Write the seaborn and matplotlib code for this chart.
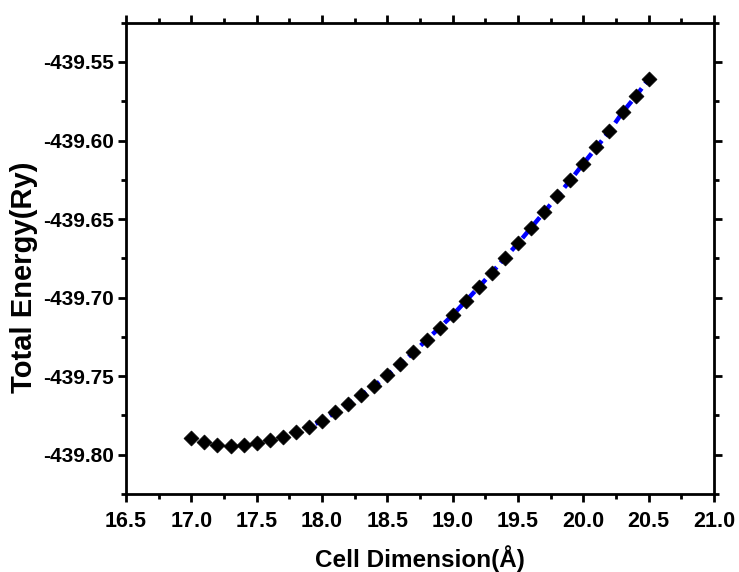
import matplotlib
matplotlib.use("Agg")
import matplotlib.pyplot as plt
from matplotlib.ticker import MultipleLocator, FormatStrFormatter
import seaborn as sns
import pandas as pd

cell_dimension = [17.0, 17.1, 17.2, 17.3, 17.4, 17.5, 17.6, 17.7, 17.8, 17.9,
                  18.0, 18.1, 18.2, 18.3, 18.4, 18.5, 18.6, 18.7, 18.8, 18.9,
                  19.0, 19.1, 19.2, 19.3, 19.4, 19.5, 19.6, 19.7, 19.8, 19.9,
                  20.0, 20.1, 20.2, 20.3, 20.4, 20.5]
total_energy = [-439.7896, -439.7921, -439.7938, -439.7943, -439.7940, -439.7928,
                -439.7909, -439.7886, -439.7854, -439.7822, -439.7784, -439.7731,
                -439.7678, -439.7621, -439.7562, -439.7494, -439.7424, -439.7349,
                -439.7269, -439.7191, -439.7111, -439.7022, -439.6933, -439.6841,
                -439.6746, -439.6655, -439.6555, -439.6456, -439.6355, -439.6253,
                -439.6147, -439.6044, -439.5939, -439.5821, -439.5719, -439.5609]
fit_x = [17.95] + cell_dimension[10:]
fit_y = [-439.7803] + total_energy[10:]

x_ticks = [16.5, 17.0, 17.5, 18.0, 18.5, 19.0, 19.5, 20.0, 20.5, 21.0]
y_ticks = [-439.80, -439.75, -439.70, -439.65, -439.60, -439.55]

sns.set_theme(style="ticks")
plt.rcParams['font.family'] = ['Liberation Sans', 'DejaVu Sans']
plt.rcParams['font.weight'] = 'bold'
plt.rcParams['text.color'] = 'black'
plt.rcParams['axes.labelcolor'] = 'black'
plt.rcParams['xtick.color'] = 'black'
plt.rcParams['ytick.color'] = 'black'

fig = plt.figure(figsize=(7.39, 5.72), dpi=100)
ax = fig.add_axes([0.1705, 0.1364, 0.7957, 0.8239])

df = pd.DataFrame({"x": cell_dimension, "y": total_energy})
df_fit = pd.DataFrame({"x": fit_x, "y": fit_y})

sns.lineplot(data=df_fit, x="x", y="y", ax=ax, color="#0000FF", linewidth=3.2,
             linestyle=(0, (2.4, 1.3)), zorder=2)
sns.scatterplot(data=df, x="x", y="y", ax=ax, marker="D", s=58, color="black",
                edgecolor="black", linewidth=0.5, zorder=3)

ax.set_xlim(16.5, 21.0)
ax.set_ylim(-439.825, -439.525)
ax.set_xticks(x_ticks)
ax.set_yticks(y_ticks)
ax.xaxis.set_minor_locator(MultipleLocator(0.25))
ax.yaxis.set_minor_locator(MultipleLocator(0.025))
ax.xaxis.set_major_formatter(FormatStrFormatter('%.1f'))
ax.yaxis.set_major_formatter(FormatStrFormatter('%.2f'))

for s in ax.spines.values():
    s.set_visible(True)
    s.set_linewidth(2.0)
    s.set_color("black")

ax.tick_params(which='both', direction='out', top=True, right=True,
               width=2.0, color='black', labelcolor='black')
ax.tick_params(which='major', length=6)
ax.tick_params(axis='x', which='major', pad=6, labelsize=15.5)
ax.tick_params(axis='y', which='major', pad=2.5, labelsize=15)
ax.tick_params(which='minor', length=3.5)
for lab in ax.get_xticklabels() + ax.get_yticklabels():
    lab.set_fontweight('bold')

ax.set_xlabel("Cell Dimension(Å)", fontsize=17.5, fontweight='bold',
              color='black')
ax.set_ylabel("Total Energy(Ry)", fontsize=21, fontweight='bold',
              color='black')
ax.xaxis.set_label_coords(0.5, -0.108)
ax.yaxis.set_label_coords(-0.150, 0.46)

fig.savefig("out.png", dpi=100)
